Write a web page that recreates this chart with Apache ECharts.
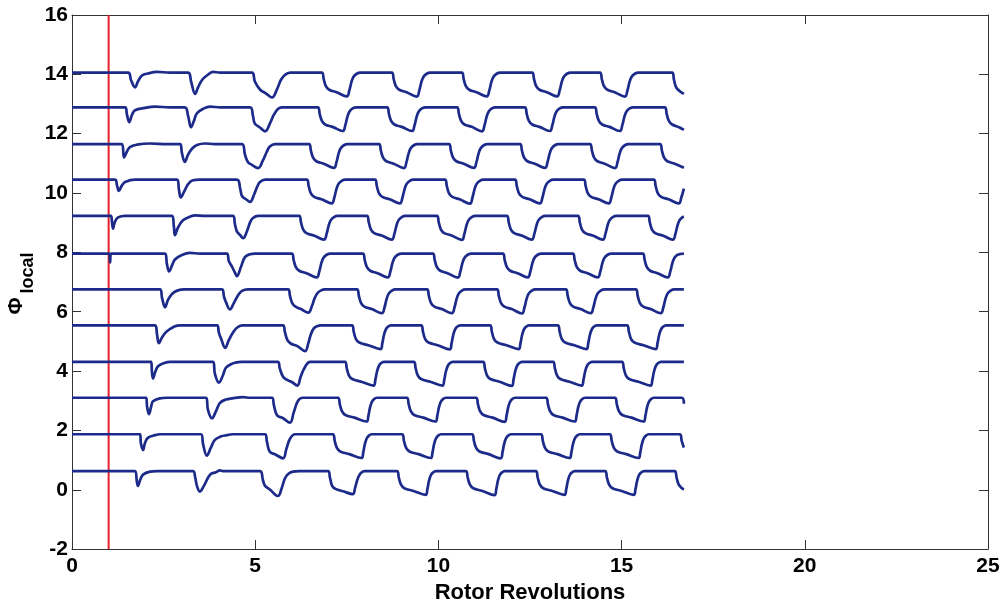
<!DOCTYPE html>
<html>
<head>
<meta charset="utf-8">
<script src="https://cdn.jsdelivr.net/npm/echarts@6/dist/echarts.min.js"></script>
<style>
  html, body { margin: 0; padding: 0; background: #ffffff; }
  #chart { width: 1005px; height: 609px; }
</style>
</head>
<body>
<div id="chart"></div>
<script>
// Local equivalence ratio at twelve stacked probes versus rotor revolutions.
// Each trace is [revolutions, signal relative to the probe's offset].
const baselines = [0.63, 1.87, 3.10, 4.31, 5.54, 6.75, 7.96, 9.23, 10.45, 11.65, 12.89, 14.06];

const trace0 = [[0,0],[1.72,0],[1.77,-.35],[1.80,-.5],[1.86,-.3],[1.94,-.12],[2.13,-.02],[2.32,0],
  [3.30,0],[3.36,-.2],[3.41,-.5],[3.49,-.69],[3.60,-.5],[3.77,-.12],[3.93,-.04],[4.04,.02],[4.12,0],
  [5.13,0],[5.21,-.3],[5.27,-.5],[5.40,-.62],[5.62,-.84],[5.73,-.55],[5.81,-.25],[5.90,-.1],[6.03,-.02],[6.20,0],
  [6.99,0],[7.04,-.22],[7.10,-.5],[7.19,-.6],[7.40,-.68],[7.66,-.78],[7.73,-.55],[7.80,-.25],[7.88,-.07],[7.98,0],
  [8.87,0],[8.92,-.22],[8.98,-.46],[9.07,-.58],[9.32,-.67],[9.65,-.8],[9.70,-.6],[9.74,-.35],[9.79,-.15],[9.85,-.05],[9.93,0],
  [10.75,0],[10.80,-.22],[10.86,-.46],[10.95,-.58],[11.20,-.67],[11.53,-.81],[11.58,-.6],[11.62,-.35],[11.67,-.15],[11.73,-.05],[11.81,0],
  [12.66,0],[12.71,-.22],[12.77,-.46],[12.86,-.58],[13.11,-.67],[13.44,-.8],[13.49,-.6],[13.53,-.35],[13.58,-.15],[13.64,-.05],[13.72,0],
  [14.55,0],[14.60,-.22],[14.66,-.46],[14.75,-.58],[15.00,-.67],[15.33,-.8],[15.38,-.6],[15.42,-.35],[15.47,-.15],[15.53,-.05],[15.61,0],
  [16.45,0],[16.50,-.22],[16.56,-.46],[16.65,-.58],[16.70,-.62]];

const trace1 = [[0,0],[1.86,0],[1.88,-.3],[1.94,-.53],[1.99,-.3],[2.07,-.12],[2.27,-.03],[2.40,0],
  [3.52,0],[3.58,-.35],[3.68,-.72],[3.79,-.45],[3.90,-.19],[4.07,-.07],[4.23,-.03],[4.37,0],
  [5.27,0],[5.32,-.25],[5.40,-.59],[5.55,-.68],[5.76,-.81],[5.85,-.5],[5.95,-.15],[6.09,0],
  [7.12,0],[7.17,-.22],[7.23,-.46],[7.32,-.58],[7.57,-.67],[7.90,-.8],[7.95,-.6],[7.99,-.35],[8.04,-.15],[8.10,-.05],[8.18,0],
  [9.01,0],[9.06,-.22],[9.12,-.46],[9.21,-.58],[9.46,-.67],[9.79,-.8],[9.84,-.6],[9.88,-.35],[9.93,-.15],[9.99,-.05],[10.07,0],
  [10.92,0],[10.97,-.22],[11.03,-.46],[11.12,-.58],[11.37,-.67],[11.70,-.81],[11.75,-.6],[11.79,-.35],[11.84,-.15],[11.90,-.05],[11.98,0],
  [12.80,0],[12.85,-.22],[12.91,-.46],[13.00,-.58],[13.25,-.67],[13.58,-.8],[13.63,-.6],[13.67,-.35],[13.72,-.15],[13.78,-.05],[13.86,0],
  [14.68,0],[14.73,-.22],[14.79,-.46],[14.88,-.58],[15.13,-.67],[15.46,-.8],[15.51,-.6],[15.55,-.35],[15.60,-.15],[15.66,-.05],[15.74,0],
  [16.59,0],[16.64,-.22],[16.70,-.45]];

const trace2 = [[0,0],[2.02,0],[2.05,-.3],[2.10,-.55],[2.16,-.3],[2.21,-.12],[2.40,-.02],[2.59,0],
  [3.66,0],[3.71,-.4],[3.82,-.69],[3.93,-.45],[4.04,-.17],[4.20,-.06],[4.37,-.02],[4.67,.02],[4.86,0],
  [5.46,0],[5.51,-.25],[5.60,-.6],[5.75,-.68],[5.95,-.84],[6.05,-.5],[6.17,-.1],[6.30,0],
  [7.26,0],[7.31,-.22],[7.37,-.46],[7.46,-.58],[7.71,-.67],[8.04,-.8],[8.09,-.6],[8.13,-.35],[8.18,-.15],[8.24,-.05],[8.32,0],
  [9.14,0],[9.19,-.22],[9.25,-.46],[9.34,-.58],[9.59,-.67],[9.92,-.8],[9.97,-.6],[10.01,-.35],[10.06,-.15],[10.12,-.05],[10.20,0],
  [11.03,0],[11.08,-.22],[11.14,-.46],[11.23,-.58],[11.48,-.67],[11.81,-.81],[11.86,-.6],[11.90,-.35],[11.95,-.15],[12.01,-.05],[12.09,0],
  [12.94,0],[12.99,-.22],[13.05,-.46],[13.14,-.58],[13.39,-.67],[13.72,-.8],[13.77,-.6],[13.81,-.35],[13.86,-.15],[13.92,-.05],[14.00,0],
  [14.82,0],[14.87,-.22],[14.93,-.46],[15.02,-.58],[15.27,-.67],[15.60,-.8],[15.65,-.6],[15.69,-.35],[15.74,-.15],[15.80,-.05],[15.88,0],
  [16.64,0],[16.70,-.2]];

const trace3 = [[0,0],[2.16,0],[2.18,-.3],[2.21,-.56],[2.27,-.35],[2.35,-.15],[2.54,-.03],[2.67,0],
  [3.85,0],[3.90,-.4],[4.01,-.7],[4.12,-.45],[4.20,-.2],[4.34,-.08],[4.45,-.03],[4.62,0],
  [5.62,0],[5.67,-.22],[5.76,-.5],[5.86,-.6],[6.00,-.68],[6.15,-.8],[6.24,-.5],[6.36,-.17],[6.50,0],
  [7.45,0],[7.50,-.22],[7.56,-.46],[7.65,-.58],[7.90,-.67],[8.23,-.8],[8.28,-.6],[8.32,-.35],[8.37,-.15],[8.43,-.05],[8.51,0],
  [9.33,0],[9.38,-.22],[9.44,-.46],[9.53,-.58],[9.78,-.67],[10.11,-.8],[10.16,-.6],[10.20,-.35],[10.25,-.15],[10.31,-.05],[10.39,0],
  [11.22,0],[11.27,-.22],[11.33,-.46],[11.42,-.58],[11.67,-.67],[12.00,-.81],[12.05,-.6],[12.09,-.35],[12.14,-.15],[12.20,-.05],[12.28,0],
  [13.13,0],[13.18,-.22],[13.24,-.46],[13.33,-.58],[13.58,-.67],[13.91,-.8],[13.96,-.6],[14.00,-.35],[14.05,-.15],[14.11,-.05],[14.19,0],
  [15.01,0],[15.06,-.22],[15.12,-.46],[15.21,-.58],[15.46,-.67],[15.79,-.8],[15.84,-.6],[15.88,-.35],[15.93,-.15],[15.99,-.05],[16.07,0],[16.70,0]];

const trace4 = [[0,0],[2.27,0],[2.32,-.3],[2.37,-.6],[2.46,-.4],[2.59,-.2],[2.81,-.03],[2.95,0],
  [3.96,0],[4.01,-.25],[4.07,-.45],[4.18,-.76],[4.28,-.5],[4.39,-.25],[4.50,-.08],[4.64,0],
  [5.76,0],[5.81,-.22],[5.88,-.5],[5.98,-.62],[6.15,-.7],[6.36,-.87],[6.45,-.6],[6.52,-.3],[6.60,-.1],[6.70,-.02],[6.80,0],
  [7.64,0],[7.69,-.22],[7.75,-.46],[7.84,-.58],[8.09,-.67],[8.42,-.8],[8.47,-.6],[8.51,-.35],[8.56,-.15],[8.62,-.05],[8.70,0],
  [9.53,0],[9.58,-.22],[9.64,-.46],[9.73,-.58],[9.98,-.67],[10.31,-.81],[10.36,-.6],[10.40,-.35],[10.45,-.15],[10.51,-.05],[10.59,0],
  [11.41,0],[11.46,-.22],[11.52,-.46],[11.61,-.58],[11.86,-.67],[12.19,-.8],[12.24,-.6],[12.28,-.35],[12.33,-.15],[12.39,-.05],[12.47,0],
  [13.26,0],[13.31,-.22],[13.37,-.46],[13.46,-.58],[13.71,-.67],[14.04,-.8],[14.09,-.6],[14.13,-.35],[14.18,-.15],[14.24,-.05],[14.32,0],
  [15.15,0],[15.20,-.22],[15.26,-.46],[15.35,-.58],[15.60,-.67],[15.93,-.8],[15.98,-.6],[16.02,-.35],[16.07,-.15],[16.13,-.05],[16.21,0],[16.70,0]];

const trace5 = [[0,0],[2.40,0],[2.46,-.3],[2.54,-.6],[2.62,-.35],[2.73,-.15],[2.89,-.03],[3.08,0],
  [4.09,0],[4.15,-.25],[4.20,-.42],[4.31,-.67],[4.42,-.45],[4.53,-.2],[4.64,-.05],[4.80,0],
  [5.90,0],[5.95,-.22],[6.01,-.46],[6.10,-.58],[6.25,-.66],[6.45,-.78],[6.55,-.55],[6.62,-.3],[6.70,-.12],[6.80,-.03],[6.90,0],
  [7.78,0],[7.83,-.22],[7.89,-.46],[7.98,-.58],[8.18,-.66],[8.46,-.8],[8.53,-.6],[8.58,-.35],[8.64,-.15],[8.73,-.04],[8.83,0],
  [9.69,0],[9.74,-.22],[9.80,-.46],[9.89,-.58],[10.09,-.66],[10.37,-.8],[10.44,-.6],[10.49,-.35],[10.55,-.15],[10.64,-.04],[10.74,0],
  [11.60,0],[11.65,-.22],[11.71,-.46],[11.80,-.58],[12.00,-.66],[12.28,-.81],[12.35,-.6],[12.40,-.35],[12.46,-.15],[12.55,-.04],[12.65,0],
  [13.48,0],[13.53,-.22],[13.59,-.46],[13.68,-.58],[13.88,-.66],[14.16,-.8],[14.23,-.6],[14.28,-.35],[14.34,-.15],[14.43,-.04],[14.53,0],
  [15.39,0],[15.44,-.22],[15.50,-.46],[15.59,-.58],[15.79,-.66],[16.07,-.8],[16.14,-.6],[16.19,-.35],[16.25,-.15],[16.34,-.04],[16.44,0],[16.70,0]];

const trace6 = [[0,0],[1.01,0],[1.04,-.3],[1.06,0],[2.54,0],[2.59,-.35],[2.65,-.6],[2.73,-.4],[2.81,-.2],[3.00,-.05],[3.22,.02],[3.49,0],
  [4.23,0],[4.28,-.25],[4.37,-.45],[4.45,-.65],[4.50,-.76],[4.61,-.45],[4.72,-.12],[4.86,-.02],[4.99,0],
  [6.00,0],[6.05,-.22],[6.11,-.46],[6.20,-.58],[6.40,-.66],[6.68,-.8],[6.75,-.6],[6.80,-.35],[6.86,-.15],[6.95,-.04],[7.05,0],
  [7.94,0],[7.99,-.22],[8.05,-.46],[8.14,-.58],[8.34,-.66],[8.62,-.8],[8.69,-.6],[8.74,-.35],[8.80,-.15],[8.89,-.04],[8.99,0],
  [9.85,0],[9.90,-.22],[9.96,-.46],[10.05,-.58],[10.25,-.66],[10.53,-.81],[10.60,-.6],[10.65,-.35],[10.71,-.15],[10.80,-.04],[10.90,0],
  [11.76,0],[11.81,-.22],[11.87,-.46],[11.96,-.58],[12.16,-.66],[12.44,-.8],[12.51,-.6],[12.56,-.35],[12.62,-.15],[12.71,-.04],[12.81,0],
  [13.67,0],[13.72,-.22],[13.78,-.46],[13.87,-.58],[14.07,-.66],[14.35,-.8],[14.42,-.6],[14.47,-.35],[14.53,-.15],[14.62,-.04],[14.72,0],
  [15.58,0],[15.63,-.22],[15.69,-.46],[15.78,-.58],[15.98,-.66],[16.26,-.8],[16.33,-.6],[16.38,-.35],[16.44,-.15],[16.53,-.04],[16.70,0]];

const trace7 = [[0,0],[1.06,0],[1.09,-.2],[1.12,-.43],[1.17,-.2],[1.26,-.05],[1.45,0],
  [2.73,0],[2.78,-.35],[2.81,-.65],[2.89,-.4],[3.03,-.15],[3.22,-.03],[3.36,.02],[3.63,0],
  [4.39,0],[4.45,-.3],[4.50,-.52],[4.59,-.65],[4.67,-.75],[4.78,-.5],[4.86,-.22],[4.94,-.07],[5.08,0],
  [6.20,0],[6.25,-.22],[6.31,-.46],[6.40,-.58],[6.60,-.66],[6.88,-.8],[6.95,-.6],[7.00,-.35],[7.06,-.15],[7.15,-.04],[7.25,0],
  [8.05,0],[8.10,-.22],[8.16,-.46],[8.25,-.58],[8.45,-.66],[8.73,-.8],[8.80,-.6],[8.85,-.35],[8.91,-.15],[9.00,-.04],[9.10,0],
  [9.96,0],[10.01,-.22],[10.07,-.46],[10.16,-.58],[10.36,-.66],[10.64,-.81],[10.71,-.6],[10.76,-.35],[10.82,-.15],[10.91,-.04],[11.01,0],
  [11.87,0],[11.92,-.22],[11.98,-.46],[12.07,-.58],[12.27,-.66],[12.55,-.8],[12.62,-.6],[12.67,-.35],[12.73,-.15],[12.82,-.04],[12.92,0],
  [13.81,0],[13.86,-.22],[13.92,-.46],[14.01,-.58],[14.21,-.66],[14.49,-.8],[14.56,-.6],[14.61,-.35],[14.67,-.15],[14.76,-.04],[14.86,0],
  [15.72,0],[15.77,-.22],[15.83,-.46],[15.92,-.58],[16.12,-.66],[16.40,-.8],[16.47,-.6],[16.52,-.35],[16.58,-.15],[16.67,-.04],[16.70,-.02]];

const trace8 = [[0,0],[1.17,0],[1.23,-.2],[1.28,-.38],[1.36,-.2],[1.45,-.08],[1.72,0],
  [2.87,0],[2.92,-.35],[2.97,-.6],[3.06,-.4],[3.17,-.15],[3.30,-.02],[3.49,0],
  [4.50,0],[4.59,-.3],[4.64,-.55],[4.75,-.66],[4.86,-.75],[4.97,-.5],[5.05,-.25],[5.13,-.08],[5.27,0],
  [6.41,0],[6.46,-.22],[6.52,-.46],[6.61,-.58],[6.81,-.66],[7.09,-.8],[7.16,-.6],[7.21,-.35],[7.27,-.15],[7.36,-.04],[7.46,0],
  [8.27,0],[8.32,-.22],[8.38,-.46],[8.47,-.58],[8.67,-.66],[8.95,-.8],[9.02,-.6],[9.07,-.35],[9.13,-.15],[9.22,-.04],[9.32,0],
  [10.18,0],[10.23,-.22],[10.29,-.46],[10.38,-.58],[10.58,-.66],[10.86,-.81],[10.93,-.6],[10.98,-.35],[11.04,-.15],[11.13,-.04],[11.23,0],
  [12.09,0],[12.14,-.22],[12.20,-.46],[12.29,-.58],[12.49,-.66],[12.77,-.8],[12.84,-.6],[12.89,-.35],[12.95,-.15],[13.04,-.04],[13.14,0],
  [13.97,0],[14.02,-.22],[14.08,-.46],[14.17,-.58],[14.37,-.66],[14.65,-.8],[14.72,-.6],[14.77,-.35],[14.83,-.15],[14.92,-.04],[15.02,0],
  [15.88,0],[15.93,-.22],[15.99,-.46],[16.08,-.58],[16.28,-.66],[16.56,-.8],[16.63,-.6],[16.70,-.3]];

const trace9 = [[0,0],[1.36,0],[1.42,-.45],[1.50,-.25],[1.58,-.1],[1.77,-.02],[2.13,.02],[2.60,0],
  [2.95,0],[3.00,-.3],[3.08,-.6],[3.17,-.35],[3.28,-.15],[3.41,-.03],[3.63,.02],[3.90,0],
  [4.64,0],[4.72,-.35],[4.80,-.6],[4.91,-.7],[5.08,-.81],[5.21,-.55],[5.32,-.25],[5.40,-.08],[5.54,0],
  [6.47,0],[6.52,-.22],[6.58,-.46],[6.67,-.58],[6.87,-.66],[7.15,-.8],[7.22,-.6],[7.27,-.35],[7.33,-.15],[7.42,-.04],[7.52,0],
  [8.38,0],[8.43,-.22],[8.49,-.46],[8.58,-.58],[8.78,-.66],[9.06,-.81],[9.13,-.6],[9.18,-.35],[9.24,-.15],[9.33,-.04],[9.43,0],
  [10.29,0],[10.34,-.22],[10.40,-.46],[10.49,-.58],[10.69,-.66],[10.97,-.8],[11.04,-.6],[11.09,-.35],[11.15,-.15],[11.24,-.04],[11.34,0],
  [12.23,0],[12.28,-.22],[12.34,-.46],[12.43,-.58],[12.63,-.66],[12.91,-.8],[12.98,-.6],[13.03,-.35],[13.09,-.15],[13.18,-.04],[13.28,0],
  [14.14,0],[14.19,-.22],[14.25,-.46],[14.34,-.58],[14.54,-.66],[14.82,-.81],[14.89,-.6],[14.94,-.35],[15.00,-.15],[15.09,-.04],[15.19,0],
  [16.05,0],[16.10,-.22],[16.16,-.46],[16.25,-.58],[16.45,-.66],[16.70,-.8]];

const trace10 = [[0,0],[1.45,0],[1.50,-.25],[1.56,-.5],[1.64,-.25],[1.72,-.1],[1.99,-.02],[2.27,.02],[2.67,0],
  [3.08,0],[3.17,-.3],[3.25,-.67],[3.33,-.45],[3.41,-.2],[3.58,-.05],[3.77,.02],[4.04,0],
  [4.86,0],[4.94,-.3],[4.99,-.55],[5.13,-.68],[5.27,-.81],[5.40,-.55],[5.51,-.25],[5.62,-.06],[5.73,0],
  [6.71,0],[6.76,-.22],[6.82,-.46],[6.91,-.58],[7.11,-.66],[7.39,-.8],[7.46,-.6],[7.51,-.35],[7.57,-.15],[7.66,-.04],[7.76,0],
  [8.60,0],[8.65,-.22],[8.71,-.46],[8.80,-.58],[9.00,-.66],[9.28,-.8],[9.35,-.6],[9.40,-.35],[9.46,-.15],[9.55,-.04],[9.65,0],
  [10.51,0],[10.56,-.22],[10.62,-.46],[10.71,-.58],[10.91,-.66],[11.19,-.81],[11.26,-.6],[11.31,-.35],[11.37,-.15],[11.46,-.04],[11.56,0],
  [12.36,0],[12.41,-.22],[12.47,-.46],[12.56,-.58],[12.76,-.66],[13.04,-.8],[13.11,-.6],[13.16,-.35],[13.22,-.15],[13.31,-.04],[13.41,0],
  [14.27,0],[14.32,-.22],[14.38,-.46],[14.47,-.58],[14.67,-.66],[14.95,-.8],[15.02,-.6],[15.07,-.35],[15.13,-.15],[15.22,-.04],[15.32,0],
  [16.18,0],[16.23,-.22],[16.29,-.46],[16.38,-.58],[16.58,-.68],[16.70,-.76]];

const trace11 = [[0,0],[1.53,0],[1.61,-.25],[1.72,-.5],[1.80,-.3],[1.91,-.1],[2.07,-.03],[2.32,.02],[2.67,0],
  [3.17,0],[3.25,-.3],[3.36,-.72],[3.44,-.5],[3.55,-.25],[3.68,-.1],[3.85,.02],[4.04,0],
  [4.91,0],[4.99,-.3],[5.13,-.57],[5.29,-.7],[5.46,-.84],[5.60,-.55],[5.70,-.25],[5.81,-.08],[5.95,0],
  [6.82,0],[6.87,-.22],[6.93,-.46],[7.02,-.58],[7.22,-.66],[7.50,-.8],[7.57,-.6],[7.62,-.35],[7.68,-.15],[7.77,-.04],[7.87,0],
  [8.73,0],[8.78,-.22],[8.84,-.46],[8.93,-.58],[9.13,-.66],[9.41,-.81],[9.48,-.6],[9.53,-.35],[9.59,-.15],[9.68,-.04],[9.78,0],
  [10.64,0],[10.69,-.22],[10.75,-.46],[10.84,-.58],[11.04,-.66],[11.32,-.8],[11.39,-.6],[11.44,-.35],[11.50,-.15],[11.59,-.04],[11.69,0],
  [12.56,0],[12.61,-.22],[12.67,-.46],[12.76,-.58],[12.96,-.66],[13.24,-.8],[13.31,-.6],[13.36,-.35],[13.42,-.15],[13.51,-.04],[13.61,0],
  [14.41,0],[14.46,-.22],[14.52,-.46],[14.61,-.58],[14.81,-.66],[15.09,-.81],[15.16,-.6],[15.21,-.35],[15.27,-.15],[15.36,-.04],[15.46,0],
  [16.38,0],[16.43,-.25],[16.49,-.5],[16.58,-.62],[16.70,-.72]];

const traces = [trace0, trace1, trace2, trace3, trace4, trace5, trace6, trace7, trace8, trace9, trace10, trace11];

// Reference revolution marker
const markerRev = 1;
const markerSpan = [-2, 16];

const FONT = '"Liberation Sans", Arial, Helvetica, sans-serif';
const TRACE_COLOR = '#1c2a8a';
const AXIS_COLOR = '#333333';

const chart = echarts.init(document.getElementById('chart'), null, { renderer: 'canvas' });

function frameAxis(extra) {
  return Object.assign({
    axisLine: { show: true, onZero: false, lineStyle: { color: AXIS_COLOR, width: 1 } },
    axisTick: { show: true, inside: true, length: 9, lineStyle: { color: AXIS_COLOR, width: 1 } },
    splitLine: { show: false }
  }, extra);
}

const series = [{
  type: 'line',
  data: [[markerRev, markerSpan[0]], [markerRev, markerSpan[1]]],
  showSymbol: false,
  lineStyle: { color: '#e8202a', width: 2 },
  z: 1,
  silent: true
}];

traces.forEach(function (tr, i) {
  series.push({
    type: 'line',
    data: tr.map(function (p) { return [p[0], +(baselines[i] + p[1]).toFixed(3)]; }),
    showSymbol: false,
    smooth: 0.4,
    lineStyle: { color: TRACE_COLOR, width: 2.7 },
    z: 2,
    silent: true
  });
});

chart.setOption({
  animation: false,
  backgroundColor: '#ffffff',
  grid: { left: 72, right: 17, top: 15, bottom: 51, containLabel: false },
  xAxis: [
    frameAxis({
      type: 'value', min: 0, max: 25, interval: 5, position: 'bottom',
      name: 'Rotor Revolutions', nameLocation: 'middle', nameGap: 30,
      nameTextStyle: { fontFamily: FONT, fontWeight: 'bold', fontSize: 22, color: '#000' },
      axisLabel: { show: true, margin: 7, fontFamily: FONT, fontWeight: 'bold', fontSize: 21, color: '#000' }
    }),
    frameAxis({
      type: 'value', min: 0, max: 25, interval: 5, position: 'top',
      axisLabel: { show: false }
    })
  ],
  yAxis: [
    frameAxis({
      type: 'value', min: -2, max: 16, interval: 2, position: 'left',
      axisLabel: { show: true, margin: 4, fontFamily: FONT, fontWeight: 'bold', fontSize: 21, color: '#000' }
    }),
    frameAxis({
      type: 'value', min: -2, max: 16, interval: 2, position: 'right',
      axisLabel: { show: false }
    })
  ],
  graphic: [
    {
      type: 'text', x: 16, y: 306, rotation: Math.PI / 2,
      style: { text: 'Φ', fontFamily: FONT, fontWeight: 'bold', fontSize: 21, fill: '#000', align: 'center', verticalAlign: 'middle' }
    },
    {
      type: 'text', x: 28, y: 273, rotation: Math.PI / 2,
      style: { text: 'local', fontFamily: FONT, fontWeight: 'bold', fontSize: 18, fill: '#000', align: 'center', verticalAlign: 'middle' }
    }
  ],
  series: series
});
</script>
</body>
</html>
